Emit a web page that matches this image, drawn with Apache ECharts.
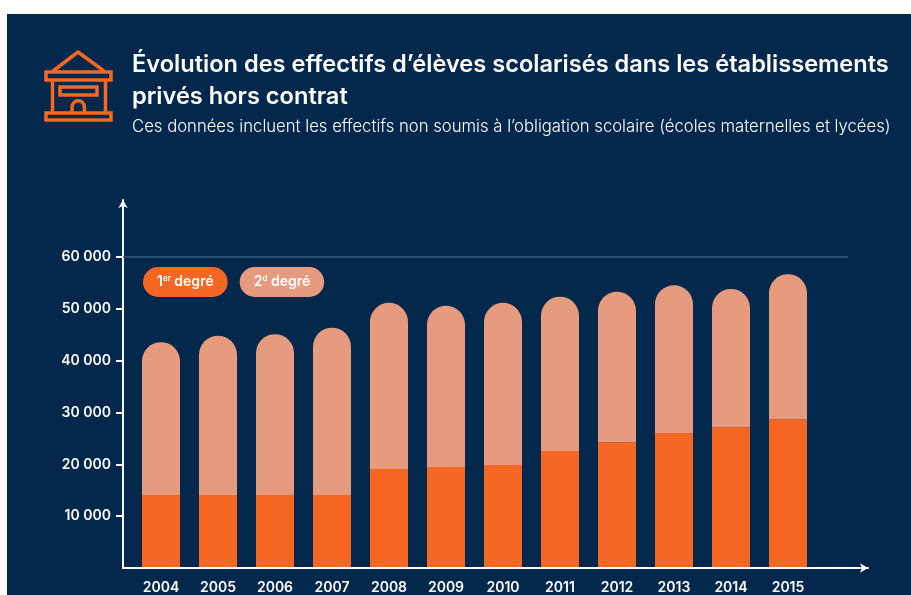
<!DOCTYPE html>
<html>
<head>
<meta charset="utf-8">
<title>Effectifs hors contrat</title>
<script src="https://cdn.jsdelivr.net/npm/echarts@6/dist/echarts.min.js"></script>
<style>
  html, body { margin: 0; height: 100%; background: #fff; overflow: hidden; }
  .panel { position: absolute; left: 7px; top: 14px; right: 0; bottom: 0; background: #03284c; }
  #chart { position: absolute; left: 0; top: 0; width: 911px; height: 595px; }
</style>
</head>
<body>
<div class="panel"></div>
<div id="chart"></div>
<script>
const years = ['2004', '2005', '2006', '2007', '2008', '2009', '2010', '2011', '2012', '2013', '2014', '2015'];
const premierDegre = [13950, 13950, 13950, 13950, 18950, 19350, 19750, 22450, 24150, 25900, 27050, 28600];
const secondDegre = [29550, 30800, 31100, 32350, 32150, 31200, 31350, 29850, 29100, 28600, 26750, 28050];
const yTicks = [10000, 20000, 30000, 40000, 50000, 60000];
const yMax = 71000;

const ORANGE = '#f56722';
const SALMON = '#e69b7e';
const FONT = 'Inter';

const chart = echarts.init(document.getElementById('chart'), null, { renderer: 'canvas' });

const pill = (color) => ({
  backgroundColor: color,
  borderRadius: 15,
  padding: [8, 14, 8, 14],
  color: '#fff',
  fontFamily: FONT,
  fontSize: 14,
  fontWeight: 600,
  rich: {
    a: { color: '#fff', fontFamily: FONT, fontSize: 14, fontWeight: 600, lineHeight: 14 },
    s: { color: '#fff', fontFamily: FONT, fontSize: 8, fontWeight: 600, lineHeight: 14, verticalAlign: 'top' }
  }
});

const line = (points, width) => ({
  type: 'polyline',
  shape: { points },
  style: { fill: 'none', stroke: ORANGE, lineWidth: width || 3.5 }
});
const box = (x, y, width, height) => ({
  type: 'rect',
  shape: { x, y, width, height },
  style: { fill: 'none', stroke: ORANGE, lineWidth: 3.5 }
});

const axisLine = {
  show: true,
  symbol: ['none', 'arrow'],
  symbolSize: [7, 8],
  lineStyle: { color: '#fff', width: 2 }
};

const option = {
  animation: false,
  textStyle: { fontFamily: FONT },
  title: [
    {
      text: 'Évolution des effectifs d’élèves scolarisés dans les établissements\nprivés hors contrat',
      left: 132, top: 49, padding: 0,
      textStyle: { color: '#fff', fontFamily: FONT, fontSize: 23.6, fontWeight: 600, lineHeight: 32 }
    },
    {
      text: 'Ces données incluent les effectifs non soumis à l’obligation scolaire (écoles maternelles et lycées)',
      left: 132, top: 118, padding: 0,
      textStyle: { color: '#fff', fontFamily: FONT, fontSize: 16.7, fontWeight: 300 }
    }
  ],
  legend: {
    left: 138, top: 267, padding: 0,
    icon: 'rect', itemWidth: 0, itemHeight: 0, itemGap: 7,
    selectedMode: false,
    formatter: (name) => name === '1er degré' ? '{a|1}{s|er}{a| degré}' : '{a|2}{s|d}{a| degré}',
    data: [
      { name: '1er degré', textStyle: pill(ORANGE) },
      { name: '2d degré', textStyle: pill(SALMON) }
    ]
  },
  // grille 0 : les axes flechés, plus longs que les barres. grille 1 : les barres
  grid: [
    { left: 123, right: 43, top: 200, bottom: 27 },
    { left: 132.5, width: 684, top: 200, bottom: 27 }
  ],
  xAxis: [
    {
      type: 'value', gridIndex: 0, min: 0, max: 1,
      splitLine: { show: false },
      axisTick: { show: false },
      axisLabel: { show: false },
      axisLine
    },
    {
      type: 'category', gridIndex: 1, data: years,
      axisLine: { show: false },
      axisTick: { show: false },
      axisLabel: { color: '#fff', fontFamily: FONT, fontSize: 14, fontWeight: 600, margin: 14 }
    }
  ],
  yAxis: [
    {
      type: 'value', gridIndex: 0, min: 0, max: yMax,
      splitLine: { show: false },
      axisLine,
      axisTick: { show: true, customValues: yTicks, length: 7, lineStyle: { color: '#fff', width: 2 } },
      axisLabel: {
        customValues: yTicks,
        color: '#fff', fontFamily: FONT, fontSize: 14, fontWeight: 600, margin: 12,
        formatter: (v) => String(v).replace(/(\d)(\d{3})$/, '$1 $2')
      }
    },
    { type: 'value', gridIndex: 1, min: 0, max: yMax, show: false, splitLine: { show: false } }
  ],
  series: [
    {
      name: 'repere',
      type: 'line',
      xAxisIndex: 0, yAxisIndex: 0,
      data: [],
      markLine: {
        silent: true,
        symbol: 'none',
        label: { show: false },
        lineStyle: { color: '#3b5a7a', width: 1.5, type: 'solid' },
        data: [[{ coord: [0, 60000] }, { coord: [0.973, 60000] }]]
      }
    },
    {
      name: '1er degré',
      type: 'bar',
      xAxisIndex: 1, yAxisIndex: 1,
      stack: 'total',
      barWidth: 38,
      itemStyle: { color: ORANGE },
      data: premierDegre
    },
    {
      name: '2d degré',
      type: 'bar',
      xAxisIndex: 1, yAxisIndex: 1,
      stack: 'total',
      barWidth: 38,
      itemStyle: { color: SALMON, borderRadius: [19, 19, 0, 0] },
      data: secondDegre
    }
  ],
  // icone de l'ecole, en haut a gauche
  graphic: {
    type: 'group',
    silent: true,
    children: [
      line([[53, 71], [78, 52], [104, 71]]),
      box(46, 72, 65, 8),
      line([[52.5, 80], [52.5, 113]]),
      line([[105.5, 80], [105.5, 113]]),
      box(60, 87, 37, 8),
      line([[72, 113], [72, 107]]),
      line([[84.4, 113], [84.4, 107]]),
      {
        type: 'arc',
        shape: { cx: 78.2, cy: 107, r: 6.2, startAngle: Math.PI, endAngle: Math.PI * 2 },
        style: { fill: 'none', stroke: ORANGE, lineWidth: 3.5 }
      },
      box(46, 113, 65, 7)
    ]
  }
};

chart.setOption(option);
</script>
</body>
</html>
